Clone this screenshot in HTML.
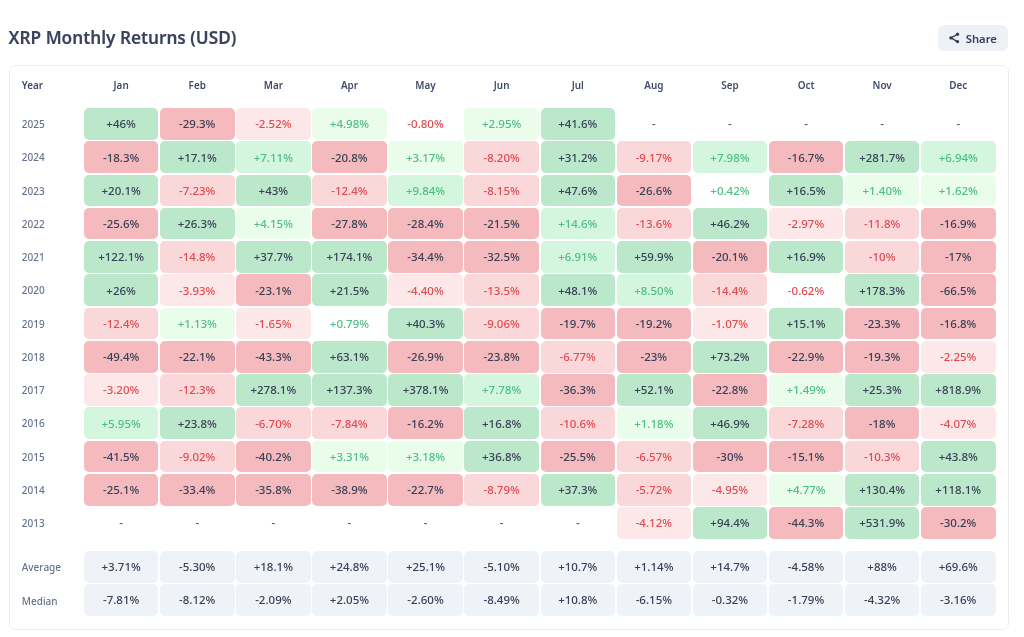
<!DOCTYPE html>
<html><head><meta charset="utf-8"><title>XRP Monthly Returns (USD)</title>
<style>
html,body{margin:0;padding:0;background:#fff;}
body{width:1024px;height:637px;position:relative;overflow:hidden;font-family:"Noto Sans","Open Sans","Liberation Sans",sans-serif;}
#w{position:absolute;left:0;top:0;width:1024px;height:637px;will-change:transform;}
.t{position:absolute;left:8.6px;top:26.23px;font-size:17.2px;font-weight:600;color:#39425d;line-height:24px;-webkit-text-stroke:0.15px #39425d;white-space:nowrap;}
.share{position:absolute;left:937.5px;top:25px;width:70.5px;height:25.5px;border-radius:6px;background:#eef2f7;}
.share span{position:absolute;left:28.2px;top:5.88px;font-size:11.25px;font-weight:600;color:#363f5b;line-height:16px;white-space:nowrap;}
.card{position:absolute;left:8.6px;top:64.8px;width:1000px;height:564.8px;border:1px solid #e9ecf1;border-radius:7px;box-sizing:border-box;}
.h{position:absolute;font-size:9.9px;font-weight:600;color:#414b69;line-height:14px;white-space:nowrap;}
.y{position:absolute;left:21.8px;font-size:10.0px;font-weight:500;color:#67748c;line-height:14px;white-space:nowrap;}
.c{position:absolute;width:74.5px;border-radius:5px;}
.c span{position:absolute;left:0;right:0;text-align:center;font-size:11.5px;font-weight:500;line-height:16px;top:8.24px;white-space:nowrap;}
.g3{background:#bbe7cb;color:#394055;}
.g2{background:#d4f5de;color:#4dbf80;}
.g1{background:#eafdeb;color:#4dbf80;}
.ng{color:#4dbf80;}
.r3{background:#f4babd;color:#394055;}
.r2{background:#fad8da;color:#e04b50;}
.r1{background:#fde8e9;color:#e04b50;}
.nr{color:#e04b50;}
.na{color:#4a5268;}
.s{background:#eff3f7;color:#394055;}
</style></head><body><div id="w">
<div class="t">XRP Monthly Returns (USD)</div>
<div class="share"><span>Share</span></div>
<svg style="position:absolute;left:0;top:0" width="1024" height="60" viewBox="0 0 1024 60"><g fill="#343d55" stroke="#343d55" stroke-width="1.3"><line x1="950.9" y1="37.9" x2="957.5" y2="34.2"/><line x1="950.9" y1="37.9" x2="957.5" y2="41.6"/><circle cx="957.5" cy="34.2" r="1.7" stroke="none"/><circle cx="950.9" cy="37.9" r="1.7" stroke="none"/><circle cx="957.5" cy="41.6" r="1.7" stroke="none"/></g></svg>
<div class="card"></div>

<div class="h" style="left:21.8px;top:78.06px">Year</div>
<div class="h" style="left:91.15px;top:78.06px;width:60px;text-align:center">Jan</div>
<div class="h" style="left:167.25px;top:78.06px;width:60px;text-align:center">Feb</div>
<div class="h" style="left:243.35px;top:78.06px;width:60px;text-align:center">Mar</div>
<div class="h" style="left:319.45px;top:78.06px;width:60px;text-align:center">Apr</div>
<div class="h" style="left:395.55px;top:78.06px;width:60px;text-align:center">May</div>
<div class="h" style="left:471.65px;top:78.06px;width:60px;text-align:center">Jun</div>
<div class="h" style="left:547.75px;top:78.06px;width:60px;text-align:center">Jul</div>
<div class="h" style="left:623.85px;top:78.06px;width:60px;text-align:center">Aug</div>
<div class="h" style="left:699.95px;top:78.06px;width:60px;text-align:center">Sep</div>
<div class="h" style="left:776.05px;top:78.06px;width:60px;text-align:center">Oct</div>
<div class="h" style="left:852.15px;top:78.06px;width:60px;text-align:center">Nov</div>
<div class="h" style="left:928.25px;top:78.06px;width:60px;text-align:center">Dec</div>
<div class="y" style="top:117.06px">2025</div>
<div class="c g3" style="left:83.90px;top:108.04px;height:31.66px"><span>+46%</span></div>
<div class="c r3" style="left:160.00px;top:108.04px;height:31.66px"><span>-29.3%</span></div>
<div class="c r1" style="left:236.10px;top:108.04px;height:31.66px"><span>-2.52%</span></div>
<div class="c g1" style="left:312.20px;top:108.04px;height:31.66px"><span>+4.98%</span></div>
<div class="c nr" style="left:388.30px;top:108.04px;height:31.66px"><span>-0.80%</span></div>
<div class="c g1" style="left:464.40px;top:108.04px;height:31.66px"><span>+2.95%</span></div>
<div class="c g3" style="left:540.50px;top:108.04px;height:31.66px"><span>+41.6%</span></div>
<div class="c na" style="left:616.60px;top:108.04px;height:31.66px"><span>-</span></div>
<div class="c na" style="left:692.70px;top:108.04px;height:31.66px"><span>-</span></div>
<div class="c na" style="left:768.80px;top:108.04px;height:31.66px"><span>-</span></div>
<div class="c na" style="left:844.90px;top:108.04px;height:31.66px"><span>-</span></div>
<div class="c na" style="left:921.00px;top:108.04px;height:31.66px"><span>-</span></div>
<div class="y" style="top:150.32px">2024</div>
<div class="c r3" style="left:83.90px;top:141.30px;height:31.66px"><span>-18.3%</span></div>
<div class="c g3" style="left:160.00px;top:141.30px;height:31.66px"><span>+17.1%</span></div>
<div class="c g2" style="left:236.10px;top:141.30px;height:31.66px"><span>+7.11%</span></div>
<div class="c r3" style="left:312.20px;top:141.30px;height:31.66px"><span>-20.8%</span></div>
<div class="c g1" style="left:388.30px;top:141.30px;height:31.66px"><span>+3.17%</span></div>
<div class="c r2" style="left:464.40px;top:141.30px;height:31.66px"><span>-8.20%</span></div>
<div class="c g3" style="left:540.50px;top:141.30px;height:31.66px"><span>+31.2%</span></div>
<div class="c r2" style="left:616.60px;top:141.30px;height:31.66px"><span>-9.17%</span></div>
<div class="c g2" style="left:692.70px;top:141.30px;height:31.66px"><span>+7.98%</span></div>
<div class="c r3" style="left:768.80px;top:141.30px;height:31.66px"><span>-16.7%</span></div>
<div class="c g3" style="left:844.90px;top:141.30px;height:31.66px"><span>+281.7%</span></div>
<div class="c g2" style="left:921.00px;top:141.30px;height:31.66px"><span>+6.94%</span></div>
<div class="y" style="top:183.58px">2023</div>
<div class="c g3" style="left:83.90px;top:174.56px;height:31.66px"><span>+20.1%</span></div>
<div class="c r2" style="left:160.00px;top:174.56px;height:31.66px"><span>-7.23%</span></div>
<div class="c g3" style="left:236.10px;top:174.56px;height:31.66px"><span>+43%</span></div>
<div class="c r2" style="left:312.20px;top:174.56px;height:31.66px"><span>-12.4%</span></div>
<div class="c g2" style="left:388.30px;top:174.56px;height:31.66px"><span>+9.84%</span></div>
<div class="c r2" style="left:464.40px;top:174.56px;height:31.66px"><span>-8.15%</span></div>
<div class="c g3" style="left:540.50px;top:174.56px;height:31.66px"><span>+47.6%</span></div>
<div class="c r3" style="left:616.60px;top:174.56px;height:31.66px"><span>-26.6%</span></div>
<div class="c ng" style="left:692.70px;top:174.56px;height:31.66px"><span>+0.42%</span></div>
<div class="c g3" style="left:768.80px;top:174.56px;height:31.66px"><span>+16.5%</span></div>
<div class="c g1" style="left:844.90px;top:174.56px;height:31.66px"><span>+1.40%</span></div>
<div class="c g1" style="left:921.00px;top:174.56px;height:31.66px"><span>+1.62%</span></div>
<div class="y" style="top:216.84px">2022</div>
<div class="c r3" style="left:83.90px;top:207.82px;height:31.66px"><span>-25.6%</span></div>
<div class="c g3" style="left:160.00px;top:207.82px;height:31.66px"><span>+26.3%</span></div>
<div class="c g1" style="left:236.10px;top:207.82px;height:31.66px"><span>+4.15%</span></div>
<div class="c r3" style="left:312.20px;top:207.82px;height:31.66px"><span>-27.8%</span></div>
<div class="c r3" style="left:388.30px;top:207.82px;height:31.66px"><span>-28.4%</span></div>
<div class="c r3" style="left:464.40px;top:207.82px;height:31.66px"><span>-21.5%</span></div>
<div class="c g2" style="left:540.50px;top:207.82px;height:31.66px"><span>+14.6%</span></div>
<div class="c r2" style="left:616.60px;top:207.82px;height:31.66px"><span>-13.6%</span></div>
<div class="c g3" style="left:692.70px;top:207.82px;height:31.66px"><span>+46.2%</span></div>
<div class="c r1" style="left:768.80px;top:207.82px;height:31.66px"><span>-2.97%</span></div>
<div class="c r2" style="left:844.90px;top:207.82px;height:31.66px"><span>-11.8%</span></div>
<div class="c r3" style="left:921.00px;top:207.82px;height:31.66px"><span>-16.9%</span></div>
<div class="y" style="top:250.10px">2021</div>
<div class="c g3" style="left:83.90px;top:241.08px;height:31.66px"><span>+122.1%</span></div>
<div class="c r2" style="left:160.00px;top:241.08px;height:31.66px"><span>-14.8%</span></div>
<div class="c g3" style="left:236.10px;top:241.08px;height:31.66px"><span>+37.7%</span></div>
<div class="c g3" style="left:312.20px;top:241.08px;height:31.66px"><span>+174.1%</span></div>
<div class="c r3" style="left:388.30px;top:241.08px;height:31.66px"><span>-34.4%</span></div>
<div class="c r3" style="left:464.40px;top:241.08px;height:31.66px"><span>-32.5%</span></div>
<div class="c g2" style="left:540.50px;top:241.08px;height:31.66px"><span>+6.91%</span></div>
<div class="c g3" style="left:616.60px;top:241.08px;height:31.66px"><span>+59.9%</span></div>
<div class="c r3" style="left:692.70px;top:241.08px;height:31.66px"><span>-20.1%</span></div>
<div class="c g3" style="left:768.80px;top:241.08px;height:31.66px"><span>+16.9%</span></div>
<div class="c r2" style="left:844.90px;top:241.08px;height:31.66px"><span>-10%</span></div>
<div class="c r3" style="left:921.00px;top:241.08px;height:31.66px"><span>-17%</span></div>
<div class="y" style="top:283.36px">2020</div>
<div class="c g3" style="left:83.90px;top:274.34px;height:31.66px"><span>+26%</span></div>
<div class="c r1" style="left:160.00px;top:274.34px;height:31.66px"><span>-3.93%</span></div>
<div class="c r3" style="left:236.10px;top:274.34px;height:31.66px"><span>-23.1%</span></div>
<div class="c g3" style="left:312.20px;top:274.34px;height:31.66px"><span>+21.5%</span></div>
<div class="c r1" style="left:388.30px;top:274.34px;height:31.66px"><span>-4.40%</span></div>
<div class="c r2" style="left:464.40px;top:274.34px;height:31.66px"><span>-13.5%</span></div>
<div class="c g3" style="left:540.50px;top:274.34px;height:31.66px"><span>+48.1%</span></div>
<div class="c g2" style="left:616.60px;top:274.34px;height:31.66px"><span>+8.50%</span></div>
<div class="c r2" style="left:692.70px;top:274.34px;height:31.66px"><span>-14.4%</span></div>
<div class="c nr" style="left:768.80px;top:274.34px;height:31.66px"><span>-0.62%</span></div>
<div class="c g3" style="left:844.90px;top:274.34px;height:31.66px"><span>+178.3%</span></div>
<div class="c r3" style="left:921.00px;top:274.34px;height:31.66px"><span>-66.5%</span></div>
<div class="y" style="top:316.62px">2019</div>
<div class="c r2" style="left:83.90px;top:307.60px;height:31.66px"><span>-12.4%</span></div>
<div class="c g1" style="left:160.00px;top:307.60px;height:31.66px"><span>+1.13%</span></div>
<div class="c r1" style="left:236.10px;top:307.60px;height:31.66px"><span>-1.65%</span></div>
<div class="c ng" style="left:312.20px;top:307.60px;height:31.66px"><span>+0.79%</span></div>
<div class="c g3" style="left:388.30px;top:307.60px;height:31.66px"><span>+40.3%</span></div>
<div class="c r2" style="left:464.40px;top:307.60px;height:31.66px"><span>-9.06%</span></div>
<div class="c r3" style="left:540.50px;top:307.60px;height:31.66px"><span>-19.7%</span></div>
<div class="c r3" style="left:616.60px;top:307.60px;height:31.66px"><span>-19.2%</span></div>
<div class="c r1" style="left:692.70px;top:307.60px;height:31.66px"><span>-1.07%</span></div>
<div class="c g3" style="left:768.80px;top:307.60px;height:31.66px"><span>+15.1%</span></div>
<div class="c r3" style="left:844.90px;top:307.60px;height:31.66px"><span>-23.3%</span></div>
<div class="c r3" style="left:921.00px;top:307.60px;height:31.66px"><span>-16.8%</span></div>
<div class="y" style="top:349.88px">2018</div>
<div class="c r3" style="left:83.90px;top:340.86px;height:31.66px"><span>-49.4%</span></div>
<div class="c r3" style="left:160.00px;top:340.86px;height:31.66px"><span>-22.1%</span></div>
<div class="c r3" style="left:236.10px;top:340.86px;height:31.66px"><span>-43.3%</span></div>
<div class="c g3" style="left:312.20px;top:340.86px;height:31.66px"><span>+63.1%</span></div>
<div class="c r3" style="left:388.30px;top:340.86px;height:31.66px"><span>-26.9%</span></div>
<div class="c r3" style="left:464.40px;top:340.86px;height:31.66px"><span>-23.8%</span></div>
<div class="c r2" style="left:540.50px;top:340.86px;height:31.66px"><span>-6.77%</span></div>
<div class="c r3" style="left:616.60px;top:340.86px;height:31.66px"><span>-23%</span></div>
<div class="c g3" style="left:692.70px;top:340.86px;height:31.66px"><span>+73.2%</span></div>
<div class="c r3" style="left:768.80px;top:340.86px;height:31.66px"><span>-22.9%</span></div>
<div class="c r3" style="left:844.90px;top:340.86px;height:31.66px"><span>-19.3%</span></div>
<div class="c r1" style="left:921.00px;top:340.86px;height:31.66px"><span>-2.25%</span></div>
<div class="y" style="top:383.14px">2017</div>
<div class="c r1" style="left:83.90px;top:374.12px;height:31.66px"><span>-3.20%</span></div>
<div class="c r2" style="left:160.00px;top:374.12px;height:31.66px"><span>-12.3%</span></div>
<div class="c g3" style="left:236.10px;top:374.12px;height:31.66px"><span>+278.1%</span></div>
<div class="c g3" style="left:312.20px;top:374.12px;height:31.66px"><span>+137.3%</span></div>
<div class="c g3" style="left:388.30px;top:374.12px;height:31.66px"><span>+378.1%</span></div>
<div class="c g2" style="left:464.40px;top:374.12px;height:31.66px"><span>+7.78%</span></div>
<div class="c r3" style="left:540.50px;top:374.12px;height:31.66px"><span>-36.3%</span></div>
<div class="c g3" style="left:616.60px;top:374.12px;height:31.66px"><span>+52.1%</span></div>
<div class="c r3" style="left:692.70px;top:374.12px;height:31.66px"><span>-22.8%</span></div>
<div class="c g1" style="left:768.80px;top:374.12px;height:31.66px"><span>+1.49%</span></div>
<div class="c g3" style="left:844.90px;top:374.12px;height:31.66px"><span>+25.3%</span></div>
<div class="c g3" style="left:921.00px;top:374.12px;height:31.66px"><span>+818.9%</span></div>
<div class="y" style="top:416.40px">2016</div>
<div class="c g2" style="left:83.90px;top:407.38px;height:31.66px"><span>+5.95%</span></div>
<div class="c g3" style="left:160.00px;top:407.38px;height:31.66px"><span>+23.8%</span></div>
<div class="c r2" style="left:236.10px;top:407.38px;height:31.66px"><span>-6.70%</span></div>
<div class="c r2" style="left:312.20px;top:407.38px;height:31.66px"><span>-7.84%</span></div>
<div class="c r3" style="left:388.30px;top:407.38px;height:31.66px"><span>-16.2%</span></div>
<div class="c g3" style="left:464.40px;top:407.38px;height:31.66px"><span>+16.8%</span></div>
<div class="c r2" style="left:540.50px;top:407.38px;height:31.66px"><span>-10.6%</span></div>
<div class="c g1" style="left:616.60px;top:407.38px;height:31.66px"><span>+1.18%</span></div>
<div class="c g3" style="left:692.70px;top:407.38px;height:31.66px"><span>+46.9%</span></div>
<div class="c r2" style="left:768.80px;top:407.38px;height:31.66px"><span>-7.28%</span></div>
<div class="c r3" style="left:844.90px;top:407.38px;height:31.66px"><span>-18%</span></div>
<div class="c r1" style="left:921.00px;top:407.38px;height:31.66px"><span>-4.07%</span></div>
<div class="y" style="top:449.66px">2015</div>
<div class="c r3" style="left:83.90px;top:440.64px;height:31.66px"><span>-41.5%</span></div>
<div class="c r2" style="left:160.00px;top:440.64px;height:31.66px"><span>-9.02%</span></div>
<div class="c r3" style="left:236.10px;top:440.64px;height:31.66px"><span>-40.2%</span></div>
<div class="c g1" style="left:312.20px;top:440.64px;height:31.66px"><span>+3.31%</span></div>
<div class="c g1" style="left:388.30px;top:440.64px;height:31.66px"><span>+3.18%</span></div>
<div class="c g3" style="left:464.40px;top:440.64px;height:31.66px"><span>+36.8%</span></div>
<div class="c r3" style="left:540.50px;top:440.64px;height:31.66px"><span>-25.5%</span></div>
<div class="c r2" style="left:616.60px;top:440.64px;height:31.66px"><span>-6.57%</span></div>
<div class="c r3" style="left:692.70px;top:440.64px;height:31.66px"><span>-30%</span></div>
<div class="c r3" style="left:768.80px;top:440.64px;height:31.66px"><span>-15.1%</span></div>
<div class="c r2" style="left:844.90px;top:440.64px;height:31.66px"><span>-10.3%</span></div>
<div class="c g3" style="left:921.00px;top:440.64px;height:31.66px"><span>+43.8%</span></div>
<div class="y" style="top:482.92px">2014</div>
<div class="c r3" style="left:83.90px;top:473.90px;height:31.66px"><span>-25.1%</span></div>
<div class="c r3" style="left:160.00px;top:473.90px;height:31.66px"><span>-33.4%</span></div>
<div class="c r3" style="left:236.10px;top:473.90px;height:31.66px"><span>-35.8%</span></div>
<div class="c r3" style="left:312.20px;top:473.90px;height:31.66px"><span>-38.9%</span></div>
<div class="c r3" style="left:388.30px;top:473.90px;height:31.66px"><span>-22.7%</span></div>
<div class="c r2" style="left:464.40px;top:473.90px;height:31.66px"><span>-8.79%</span></div>
<div class="c g3" style="left:540.50px;top:473.90px;height:31.66px"><span>+37.3%</span></div>
<div class="c r2" style="left:616.60px;top:473.90px;height:31.66px"><span>-5.72%</span></div>
<div class="c r1" style="left:692.70px;top:473.90px;height:31.66px"><span>-4.95%</span></div>
<div class="c g1" style="left:768.80px;top:473.90px;height:31.66px"><span>+4.77%</span></div>
<div class="c g3" style="left:844.90px;top:473.90px;height:31.66px"><span>+130.4%</span></div>
<div class="c g3" style="left:921.00px;top:473.90px;height:31.66px"><span>+118.1%</span></div>
<div class="y" style="top:516.18px">2013</div>
<div class="c na" style="left:83.90px;top:507.16px;height:31.66px"><span>-</span></div>
<div class="c na" style="left:160.00px;top:507.16px;height:31.66px"><span>-</span></div>
<div class="c na" style="left:236.10px;top:507.16px;height:31.66px"><span>-</span></div>
<div class="c na" style="left:312.20px;top:507.16px;height:31.66px"><span>-</span></div>
<div class="c na" style="left:388.30px;top:507.16px;height:31.66px"><span>-</span></div>
<div class="c na" style="left:464.40px;top:507.16px;height:31.66px"><span>-</span></div>
<div class="c na" style="left:540.50px;top:507.16px;height:31.66px"><span>-</span></div>
<div class="c r1" style="left:616.60px;top:507.16px;height:31.66px"><span>-4.12%</span></div>
<div class="c g3" style="left:692.70px;top:507.16px;height:31.66px"><span>+94.4%</span></div>
<div class="c r3" style="left:768.80px;top:507.16px;height:31.66px"><span>-44.3%</span></div>
<div class="c g3" style="left:844.90px;top:507.16px;height:31.66px"><span>+531.9%</span></div>
<div class="c r3" style="left:921.00px;top:507.16px;height:31.66px"><span>-30.2%</span></div>
<div class="y" style="top:559.87px">Average</div>
<div class="c s" style="left:83.90px;top:550.50px;height:32.10px"><span style="top:8.19px">+3.71%</span></div>
<div class="c s" style="left:160.00px;top:550.50px;height:32.10px"><span style="top:8.19px">-5.30%</span></div>
<div class="c s" style="left:236.10px;top:550.50px;height:32.10px"><span style="top:8.19px">+18.1%</span></div>
<div class="c s" style="left:312.20px;top:550.50px;height:32.10px"><span style="top:8.19px">+24.8%</span></div>
<div class="c s" style="left:388.30px;top:550.50px;height:32.10px"><span style="top:8.19px">+25.1%</span></div>
<div class="c s" style="left:464.40px;top:550.50px;height:32.10px"><span style="top:8.19px">-5.10%</span></div>
<div class="c s" style="left:540.50px;top:550.50px;height:32.10px"><span style="top:8.19px">+10.7%</span></div>
<div class="c s" style="left:616.60px;top:550.50px;height:32.10px"><span style="top:8.19px">+1.14%</span></div>
<div class="c s" style="left:692.70px;top:550.50px;height:32.10px"><span style="top:8.19px">+14.7%</span></div>
<div class="c s" style="left:768.80px;top:550.50px;height:32.10px"><span style="top:8.19px">-4.58%</span></div>
<div class="c s" style="left:844.90px;top:550.50px;height:32.10px"><span style="top:8.19px">+88%</span></div>
<div class="c s" style="left:921.00px;top:550.50px;height:32.10px"><span style="top:8.19px">+69.6%</span></div>
<div class="y" style="top:593.62px">Median</div>
<div class="c s" style="left:83.90px;top:584.20px;height:32.20px"><span style="top:8.24px">-7.81%</span></div>
<div class="c s" style="left:160.00px;top:584.20px;height:32.20px"><span style="top:8.24px">-8.12%</span></div>
<div class="c s" style="left:236.10px;top:584.20px;height:32.20px"><span style="top:8.24px">-2.09%</span></div>
<div class="c s" style="left:312.20px;top:584.20px;height:32.20px"><span style="top:8.24px">+2.05%</span></div>
<div class="c s" style="left:388.30px;top:584.20px;height:32.20px"><span style="top:8.24px">-2.60%</span></div>
<div class="c s" style="left:464.40px;top:584.20px;height:32.20px"><span style="top:8.24px">-8.49%</span></div>
<div class="c s" style="left:540.50px;top:584.20px;height:32.20px"><span style="top:8.24px">+10.8%</span></div>
<div class="c s" style="left:616.60px;top:584.20px;height:32.20px"><span style="top:8.24px">-6.15%</span></div>
<div class="c s" style="left:692.70px;top:584.20px;height:32.20px"><span style="top:8.24px">-0.32%</span></div>
<div class="c s" style="left:768.80px;top:584.20px;height:32.20px"><span style="top:8.24px">-1.79%</span></div>
<div class="c s" style="left:844.90px;top:584.20px;height:32.20px"><span style="top:8.24px">-4.32%</span></div>
<div class="c s" style="left:921.00px;top:584.20px;height:32.20px"><span style="top:8.24px">-3.16%</span></div>
</div></body></html>
